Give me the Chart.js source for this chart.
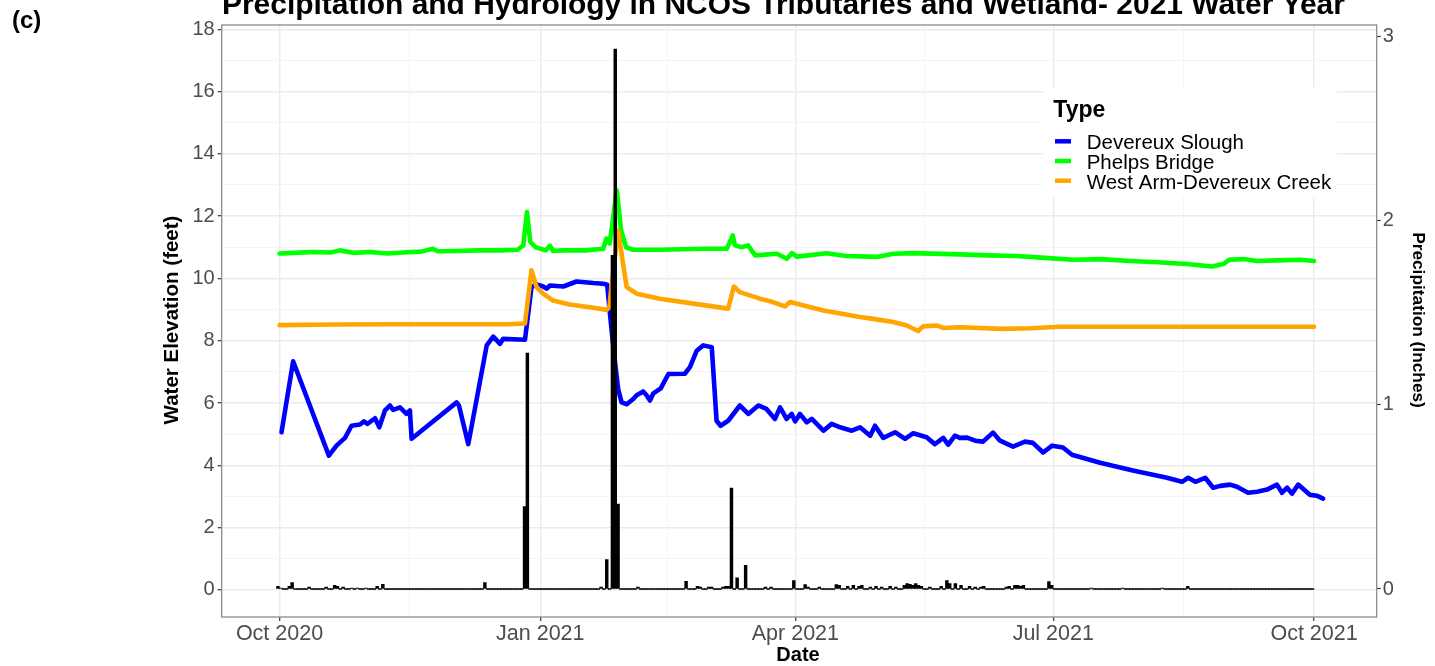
<!DOCTYPE html>
<html>
<head>
<meta charset="utf-8">
<script src="https://cdn.jsdelivr.net/npm/chart.js@4.4.1/dist/chart.umd.min.js"></script>
<style>
  html, body { margin: 0; padding: 0; background: #ffffff; }
  #wrap { position: relative; width: 1435px; height: 666px; }
  canvas { display: block; }
</style>
</head>
<body>
<div id="wrap"><canvas id="c" width="1435" height="666"></canvas></div>
<script>
// ---------------- DATA (days counted from 2020-10-01) ----------------
const chartTitle = 'Precipitation and Hydrology in NCOS Tributaries and Wetland- 2021 Water Year';
const panelLabel = '(c)';
const xAxisTitle = 'Date';
const yAxisTitle = 'Water Elevation (feet)';
const y2AxisTitle = 'Precipitation (Inches)';
const legendTitle = 'Type';

const xTickDays   = [0, 92, 182, 273, 365];
const xTickLabels = ['Oct 2020', 'Jan 2021', 'Apr 2021', 'Jul 2021', 'Oct 2021'];
const xMinorDays  = [46, 137, 227.5, 319];
const yTicks      = [0, 2, 4, 6, 8, 10, 12, 14, 16, 18];
const yMinorTicks = [1, 3, 5, 7, 9, 11, 13, 15, 17];
const y2Ticks     = [0, 1, 2, 3];

const seriesNames  = ['Devereux Slough', 'Phelps Bridge', 'West Arm-Devereux Creek'];
const seriesColors = ['#0000FF', '#00FF00', '#FFA500'];

// Devereux Slough water elevation (feet)
const devereuxDays = [0.7,4.8,17.4,20.1,23.1,25.4,28.4,29.8,31,33.7,35.2,37.2,39,40.1,42.5,44.8,46,46.6,62.5,63.3,66.6,73.1,75.4,77.8,78.9,86.6,88.9,90.7,93,94.2,95.4,100.1,104.8,110.7,114.2,115.6,116.6,118,119.5,120.7,122.5,124.8,126,128.3,129.5,130.7,131.9,134.5,137.2,143,144.8,147.2,149.5,152.5,154.2,155.6,158.3,162.4,165.4,168.9,171.8,174.8,176.6,178.9,180.7,181.9,183.6,186,187.8,191.9,194.8,197.8,201.9,204.8,208.4,210.1,213,217.2,220.7,223.6,228.3,231.2,234.2,235.9,238.3,240,242.6,245.4,248.2,251.7,254.2,258.8,263,265.8,269.4,272.6,276.4,279.6,289.5,301.1,313.1,318.4,320.6,323.1,326.6,329.4,331.9,335.4,337.8,341.7,344.9,348.4,351.9,353.7,355.5,357.2,359.4,363.6,366.1,368.2];
const devereuxFeet = [5.06,7.34,4.31,4.63,4.88,5.27,5.31,5.41,5.33,5.51,5.22,5.76,5.92,5.78,5.86,5.65,5.76,4.85,6.02,5.92,4.68,7.85,8.13,7.9,8.06,8.03,9.72,9.81,9.74,9.67,9.77,9.74,9.9,9.85,9.83,9.8,8.85,7.6,6.43,6.02,5.96,6.13,6.25,6.37,6.25,6.08,6.31,6.47,6.93,6.94,7.15,7.68,7.85,7.79,5.43,5.27,5.43,5.92,5.65,5.92,5.81,5.49,5.86,5.49,5.65,5.41,5.65,5.38,5.49,5.11,5.33,5.22,5.11,5.22,4.95,5.27,4.88,5.06,4.85,5.03,4.9,4.68,4.88,4.66,4.95,4.88,4.89,4.79,4.76,5.05,4.79,4.6,4.76,4.72,4.41,4.63,4.57,4.34,4.08,3.83,3.6,3.47,3.6,3.47,3.6,3.28,3.34,3.38,3.31,3.12,3.15,3.22,3.38,3.12,3.28,3.09,3.38,3.05,3.02,2.93];

// Phelps Bridge water elevation (feet)
const phelpsDays = [0,5,12,18,21.3,26,32,38,45,50,54,56,62,70,78,84,86,87.3,88.5,90.3,94,95.4,96.5,100,108,114.2,115.3,116.5,119,120.5,122.3,124.7,134,150,157.8,159.9,160.7,163,165.3,167.8,175.5,179,180.8,182.5,193,200,210.7,216.6,223.6,240,250,260,270,280,290,300,310,320,329,333,335,340,345,352,360,365];
const phelpsFeet = [10.8,10.82,10.85,10.83,10.9,10.82,10.85,10.8,10.84,10.86,10.95,10.87,10.88,10.9,10.9,10.92,11.06,12.13,11.17,11.0,10.9,11.05,10.88,10.9,10.9,10.95,11.28,11.12,12.83,11.54,11.0,10.92,10.92,10.95,10.95,11.38,11.06,11.0,11.06,10.74,10.79,10.63,10.81,10.7,10.81,10.72,10.69,10.79,10.81,10.77,10.74,10.72,10.66,10.6,10.62,10.56,10.52,10.46,10.38,10.46,10.6,10.62,10.56,10.58,10.6,10.56];

// West Arm-Devereux Creek water elevation (feet)
const westArmDays = [0,20,40,60,80,86.6,88.9,90.7,93,96.5,102.4,110.7,115.4,116.4,117.2,119.5,121.2,122.5,126,134.2,146,158.3,160.3,162.4,169.5,173,178.3,180.1,191.9,204.8,209.4,216.6,221.3,225.3,227.1,231.8,234.2,240,255,265,275,300,330,365];
const westArmFeet = [8.5,8.52,8.53,8.53,8.53,8.55,10.26,9.72,9.51,9.29,9.16,9.06,8.99,9.08,9.83,11.54,10.47,9.72,9.51,9.35,9.19,9.03,9.74,9.56,9.35,9.27,9.1,9.24,8.97,8.76,8.7,8.6,8.49,8.31,8.46,8.49,8.41,8.43,8.38,8.4,8.45,8.45,8.45,8.45];

// Daily precipitation (inches); days not listed recorded 0
const rainFirstDay = -1, rainLastDay = 364;
const rainDays   = [-1,0,3,4,10,16,19,20,22,25,27,30,34,36,72,86,87,113,115,117,118,119,126,143,147,148,151,152,156,157,158,159,161,164,171,173,181,185,186,190,196,197,200,202,204,205,208,210,212,215,217,220,221,222,223,224,225,226,229,233,235,236,238,240,243,245,247,248,256,257,259,260,261,262,271,272,286,297,311,320];
const rainInches = [0.015,0.005,0.015,0.035,0.01,0.01,0.02,0.015,0.01,0.005,0.005,0.005,0.015,0.025,0.035,0.447,1.28,0.01,0.16,1.81,2.93,0.46,0.01,0.042,0.015,0.01,0.01,0.01,0.01,0.015,0.015,0.548,0.06,0.128,0.01,0.01,0.045,0.024,0.01,0.01,0.024,0.02,0.015,0.02,0.015,0.02,0.01,0.015,0.01,0.015,0.01,0.02,0.029,0.025,0.02,0.029,0.02,0.015,0.01,0.015,0.045,0.03,0.029,0.02,0.015,0.01,0.01,0.015,0.01,0.015,0.02,0.02,0.015,0.02,0.04,0.02,0.005,0.005,0.005,0.015];
const rainDayCentre = 0.45; // daily totals are centred near mid-day on the date axis

// ---------------- BUILD ----------------
const toPts = (xs, ys) => xs.map((d, i) => ({ x: d, y: ys[i] }));
const rainMap = new Map(rainDays.map((d, i) => [d, rainInches[i]]));
const rainPts = [];
for (let d = rainFirstDay; d <= rainLastDay; d++) rainPts.push({ x: d + rainDayCentre, y: rainMap.has(d) ? rainMap.get(d) : 0 });

const FONT = "'Liberation Sans', Arial, Helvetica, sans-serif";
Chart.defaults.font.family = FONT;

const AREA = { left: 221.7, right: 1376.7, top: 25, bottom: 617 };
const W = 1435, H = 666;

const xMajorSet = new Set(xTickDays);
const yMajorSet = new Set(yTicks);

const textPlugin = {
  id: 'texts',
  afterDraw(chart) {
    const ctx = chart.ctx;
    const a = chart.chartArea;
    ctx.save();
    // panel border
    ctx.strokeStyle = '#8c8c8c';
    ctx.lineWidth = 1.3;
    ctx.strokeRect(a.left, a.top, a.right - a.left, a.bottom - a.top);

    // title (scaled to the reference width)
    ctx.fillStyle = '#000';
    ctx.textBaseline = 'alphabetic';
    ctx.textAlign = 'left';
    ctx.font = 'bold 26px ' + FONT;
    const tw = ctx.measureText(chartTitle).width;
    const fs = 26 * 1123 / tw;
    ctx.font = 'bold ' + fs.toFixed(2) + 'px ' + FONT;
    ctx.fillText(chartTitle, 222, 13.5);

    // panel label
    ctx.font = 'bold 24px ' + FONT;
    ctx.fillText(panelLabel, 12, 28);

    // x axis title
    ctx.textAlign = 'center';
    ctx.textBaseline = 'middle';
    ctx.font = 'bold 20px ' + FONT;
    ctx.fillText(xAxisTitle, 798, 655);

    // left y title
    ctx.save();
    ctx.translate(172, 320);
    ctx.rotate(-Math.PI / 2);
    ctx.font = 'bold 20.5px ' + FONT;
    ctx.fillText(yAxisTitle, 0, 0);
    ctx.restore();

    // right y title
    ctx.save();
    ctx.translate(1418, 320);
    ctx.rotate(Math.PI / 2);
    ctx.font = 'bold 17.3px ' + FONT;
    ctx.fillText(y2AxisTitle, 0, 0);
    ctx.restore();

    // legend
    ctx.fillStyle = '#ffffff';
    ctx.fillRect(1043, 87, 294, 110);
    ctx.fillStyle = '#000';
    ctx.textAlign = 'left';
    ctx.textBaseline = 'alphabetic';
    ctx.font = 'bold 23px ' + FONT;
    ctx.fillText(legendTitle, 1053.3, 117.3);
    ctx.font = '20.5px ' + FONT;
    seriesNames.forEach((name, i) => {
      const ky = 141.3 + i * 19.7;
      ctx.strokeStyle = seriesColors[i];
      ctx.lineWidth = 4.5;
      ctx.beginPath();
      ctx.moveTo(1055, ky);
      ctx.lineTo(1071, ky);
      ctx.stroke();
      ctx.fillStyle = '#000';
      ctx.fillText(name, 1086.7, ky + 8);
    });
    ctx.restore();
  }
};

const majorGrid = '#EBEBEB';
const minorGrid = '#F3F3F3';
const tickDark = '#333333';

const lineStyle = { borderWidth: 4.6, pointRadius: 0, tension: 0, borderJoinStyle: 'round', borderCapStyle: 'round' };

new Chart(document.getElementById('c'), {
  type: 'line',
  data: {
    datasets: [
      { type: 'bar', label: 'Precipitation', data: rainPts, xAxisID: 'x', yAxisID: 'y2',
        backgroundColor: '#000000', borderWidth: 0, barThickness: 2.8, minBarLength: 0.8,
        grouped: false, order: 0 },
      Object.assign({ type: 'line', label: seriesNames[2], data: toPts(westArmDays, westArmFeet), xAxisID: 'x', yAxisID: 'y',
        borderColor: seriesColors[2], order: 1 }, lineStyle),
      Object.assign({ type: 'line', label: seriesNames[1], data: toPts(phelpsDays, phelpsFeet), xAxisID: 'x', yAxisID: 'y',
        borderColor: seriesColors[1], order: 2 }, lineStyle),
      Object.assign({ type: 'line', label: seriesNames[0], data: toPts(devereuxDays, devereuxFeet), xAxisID: 'x', yAxisID: 'y',
        borderColor: seriesColors[0], order: 3 }, lineStyle)
    ]
  },
  options: {
    responsive: false,
    animation: false,
    devicePixelRatio: 1,
    layout: { padding: { left: 0, right: 0, top: AREA.top, bottom: 0 } },
    plugins: { legend: { display: false }, tooltip: { enabled: false }, title: { display: false } },
    scales: {
      x: {
        type: 'linear', position: 'bottom', min: -20.4, max: 387.1, offset: false,
        afterBuildTicks: s => { s.ticks = [...xTickDays, ...xMinorDays].sort((a, b) => a - b).map(v => ({ value: v })); },
        afterFit: s => { s.height = H - AREA.bottom; },
        ticks: {
          autoSkip: false, maxRotation: 0, minRotation: 0, padding: 0, color: '#4D4D4D',
          font: { size: 21.5 },
          callback: v => { const i = xTickDays.indexOf(v); return i >= 0 ? xTickLabels[i] : ''; }
        },
        grid: {
          offset: false, drawTicks: true, tickLength: 4,
          color: c => (c.tick && xMajorSet.has(c.tick.value)) ? majorGrid : minorGrid,
          lineWidth: c => (c.tick && xMajorSet.has(c.tick.value)) ? 1.4 : 0.9,
          tickColor: c => (c.tick && xMajorSet.has(c.tick.value)) ? tickDark : 'rgba(0,0,0,0)',
          tickWidth: 1.2
        },
        border: { display: false }
      },
      y: {
        type: 'linear', position: 'left', min: -0.87, max: 18.135,
        afterBuildTicks: s => { s.ticks = [...yTicks, ...yMinorTicks].sort((a, b) => a - b).map(v => ({ value: v })); },
        afterFit: s => { s.width = AREA.left; },
        ticks: {
          autoSkip: false, padding: 3, color: '#4D4D4D', font: { size: 20 },
          callback: v => yMajorSet.has(v) ? String(v) : ''
        },
        grid: {
          drawTicks: true, tickLength: 4,
          color: c => (c.tick && yMajorSet.has(c.tick.value)) ? majorGrid : minorGrid,
          lineWidth: c => (c.tick && yMajorSet.has(c.tick.value)) ? 1.4 : 0.9,
          tickColor: c => (c.tick && yMajorSet.has(c.tick.value)) ? tickDark : 'rgba(0,0,0,0)',
          tickWidth: 1.2
        },
        border: { display: false }
      },
      y2: {
        type: 'linear', position: 'right', min: -0.152, max: 3.06,
        afterBuildTicks: s => { s.ticks = y2Ticks.map(v => ({ value: v })); },
        afterFit: s => { s.width = W - AREA.right; },
        ticks: { autoSkip: false, padding: 2, color: '#4D4D4D', font: { size: 20 }, callback: v => String(v) },
        grid: { drawOnChartArea: false, drawTicks: true, tickLength: 4, tickColor: tickDark, tickWidth: 1.2 },
        border: { display: false }
      }
    }
  },
  plugins: [textPlugin]
});
</script>
</body>
</html>
